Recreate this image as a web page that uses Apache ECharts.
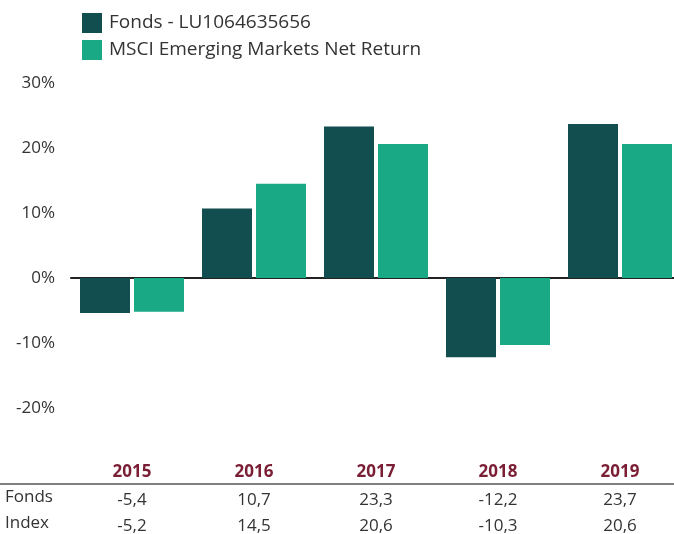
<!DOCTYPE html>
<html>
<head>
<meta charset="utf-8">
<script src="https://cdn.jsdelivr.net/npm/echarts@6/dist/echarts.min.js"></script>
<style>
  html, body { margin: 0; padding: 0; background: #fff; }
  #chart { width: 674px; height: 534px; }
</style>
</head>
<body>
<div id="chart"></div>
<script>
var years = ['2015', '2016', '2017', '2018', '2019'];
var fonds = [-5.4, 10.7, 23.3, -12.2, 23.7];
var index = [-5.2, 14.5, 20.6, -10.3, 20.6];
var fondsName = 'Fonds - LU1064635656';
var indexName = 'MSCI Emerging Markets Net Return';

function fmt(v) {
    return v.toFixed(1).replace('.', ',');
}

var myChart = echarts.init(document.getElementById('chart'));

var option = {
    animation: false,
    textStyle: { fontFamily: 'Open Sans' },
    legend: {
        orient: 'vertical',
        left: 77,
        top: 8,
        itemWidth: 20,
        itemHeight: 20,
        itemGap: 7,
        icon: 'rect',
        textStyle: { fontSize: 19, color: '#333', padding: [0, 0, 0, 2] },
        data: [fondsName, indexName]
    },
    grid: {
        left: 71,
        width: 610,
        top: 83,
        height: 325,
        outerBoundsMode: 'none'
    },
    xAxis: [
        {
            type: 'category',
            data: years,
            axisLine: { onZero: true, lineStyle: { color: '#222', width: 2 } },
            axisTick: { show: false },
            axisLabel: { show: false }
        },
        {
            type: 'category',
            data: years,
            position: 'bottom',
            axisLine: { show: false, onZero: false },
            axisTick: { show: false },
            axisLabel: {
                margin: 49,
                formatter: function (val, i) {
                    return '{y|' + val + '}\n{v|' + fmt(fonds[i]) + '}\n{v|' + fmt(index[i]) + '}';
                },
                rich: {
                    y: { fontSize: 17, fontWeight: 'bold', color: '#7a1e35', lineHeight: 30 },
                    v: { fontSize: 17, color: '#333', lineHeight: 26 }
                }
            }
        }
    ],
    yAxis: {
        type: 'value',
        min: -20,
        max: 30,
        interval: 10,
        axisLine: { show: false },
        axisTick: { show: false },
        splitLine: { show: false },
        axisLabel: {
            margin: 16,
            fontSize: 17,
            color: '#333',
            formatter: '{value}%'
        }
    },
    graphic: [
        {
            type: 'line',
            shape: { x1: 0, y1: 484, x2: 674, y2: 484 },
            style: { stroke: '#555', lineWidth: 1.5 }
        },
        {
            type: 'text',
            left: 5,
            top: 489,
            style: { text: 'Fonds', fontSize: 17, fill: '#333', fontFamily: 'Open Sans' }
        },
        {
            type: 'text',
            left: 5,
            top: 515,
            style: { text: 'Index', fontSize: 17, fill: '#333', fontFamily: 'Open Sans' }
        }
    ],
    series: [
        {
            name: fondsName,
            type: 'bar',
            barWidth: 50,
            barGap: '8%',
            itemStyle: { color: '#124e4f' },
            data: fonds
        },
        {
            name: indexName,
            type: 'bar',
            barWidth: 50,
            itemStyle: { color: '#1aa985' },
            data: index
        }
    ]
};

myChart.setOption(option);
</script>
</body>
</html>
